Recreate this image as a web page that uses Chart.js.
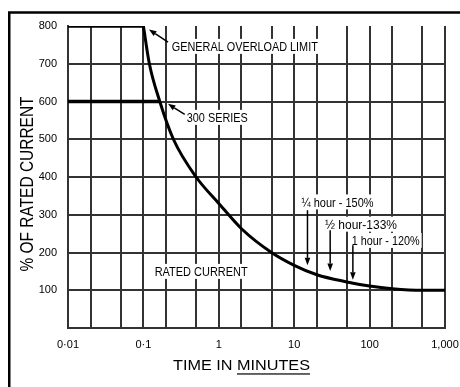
<!DOCTYPE html>
<html><head><meta charset="utf-8">
<script src="https://cdn.jsdelivr.net/npm/chart.js@4/dist/chart.umd.min.js"></script>
<style>html,body{margin:0;padding:0;background:#fff;}canvas{display:block}</style>
</head><body>
<canvas id="c" width="460" height="387"></canvas>
<script>
// ---- data ----
const timeTicks = [0.01,0.02,0.05,0.1,0.2,0.5,1,2,5,10,20,50,100,200,500,1000];
const timeTickLabels = ['0·01','','','0·1','','','1','','','10','','','100','','','1,000'];
const percentTicks = [0,100,200,300,400,500,600,700,800];

const overloadFlatTime = [0.01, 0.1];
const overloadFlatPct  = [800, 800];
const overloadCurveTime = [0.1, 0.12, 0.165, 0.25, 0.5, 1, 2, 5, 10, 20, 50, 100, 200, 500, 1000];
const overloadCurvePct  = [800, 700, 600, 500, 400, 330, 263, 200, 166, 141, 122, 111, 104, 100, 100];
const series300Time = [0.01, 0.165];
const series300Pct  = [600, 600];

// annotation texts (anchor = left edge / vertical centre, in data units)
const labelTexts = ['GENERAL OVERLOAD LIMIT','300 SERIES','RATED CURRENT','¼ hour - 150%','½ hour-133%','1 hour - 120%'];
const labelTime  = [0.238, 0.376, 0.141, 12.5, 25.6, 57.8];
const labelPct   = [746, 558, 150, 334, 275, 232];
const labelWidth = [146, 61, 93, 72, 72, 68];
// arrows: from -> to (tip), data units
const arrowFromTime = [0.212, 0.353, 15, 30, 60];
const arrowFromPct  = [757, 566, 312, 259, 219];
const arrowToTime   = [0.1186, 0.2115, 15, 30, 60];
const arrowToPct    = [791, 594, 166, 151, 128];

const xTitle1 = 'TIME IN ', xTitle2 = 'MINUTES';
const yTitle = '% OF RATED CURRENT';

const toXY = (xs, ys) => xs.map((x, i) => ({x, y: ys[i]}));
const GRID = '#333';
const NOLINE = 'rgba(255,255,255,0)';
const TICKFONT = {family: "'Liberation Sans', Arial, sans-serif", size: 11};

function drawScaledText(ctx, str, x, yCenter, size, targetW) {
  ctx.save();
  ctx.font = size + 'px "Liberation Sans", Arial, sans-serif';
  const m = ctx.measureText(str).width;
  ctx.translate(x, yCenter + 0.358 * size);
  ctx.scale(targetW / m, 1);
  ctx.textAlign = 'left';
  ctx.textBaseline = 'alphabetic';
  ctx.fillStyle = '#000';
  ctx.fillText(str, 0, 0);
  ctx.restore();
}

function drawArrow(ctx, x1, y1, x2, y2) {
  const ang = Math.atan2(y2 - y1, x2 - x1);
  const hl = 7.5, hw = 2.8;
  const bx = x2 - hl * Math.cos(ang), by = y2 - hl * Math.sin(ang);
  ctx.save();
  ctx.strokeStyle = '#000'; ctx.fillStyle = '#000'; ctx.lineWidth = 1.5;
  ctx.beginPath(); ctx.moveTo(x1, y1); ctx.lineTo(bx, by); ctx.stroke();
  ctx.beginPath();
  ctx.moveTo(x2, y2);
  ctx.lineTo(bx + hw * Math.sin(ang), by - hw * Math.cos(ang));
  ctx.lineTo(bx - hw * Math.sin(ang), by + hw * Math.cos(ang));
  ctx.closePath(); ctx.fill();
  ctx.restore();
}

const decor = {
  id: 'decor',
  beforeDraw(chart) {
    const ctx = chart.ctx;
    ctx.save();
    ctx.fillStyle = '#fff'; ctx.fillRect(0, 0, chart.width, chart.height);
    ctx.strokeStyle = '#000'; ctx.lineWidth = 2.5;
    ctx.strokeRect(9.25, 12.5, chart.width + 40, chart.height + 40);
    ctx.restore();
  },
  afterDatasetsDraw(chart) {
    const ctx = chart.ctx, xs = chart.scales.x, ys = chart.scales.y;
    const size = 13;
    labelTexts.forEach((t, i) => {
      const x = xs.getPixelForValue(labelTime[i]);
      const y = ys.getPixelForValue(labelPct[i]);
      ctx.save(); ctx.fillStyle = '#fff';
      ctx.fillRect(x - 2, y - 7.5, labelWidth[i] + 4, 15);
      ctx.restore();
      drawScaledText(ctx, t, x, y, size, labelWidth[i]);
    });
    arrowFromTime.forEach((t, i) => {
      drawArrow(ctx, xs.getPixelForValue(t), ys.getPixelForValue(arrowFromPct[i]),
                xs.getPixelForValue(arrowToTime[i]), ys.getPixelForValue(arrowToPct[i]));
    });
    const a = chart.chartArea;
    // y title
    ctx.save();
    ctx.translate(27, (a.top + a.bottom) / 2 + 7);
    ctx.rotate(-Math.PI / 2);
    ctx.font = '17.5px "Liberation Sans", Arial, sans-serif';
    const yw = ctx.measureText(yTitle).width;
    ctx.scale(175 / yw, 1);
    ctx.textAlign = 'center'; ctx.textBaseline = 'alphabetic'; ctx.fillStyle = '#000';
    ctx.fillText(yTitle, 0, 0.358 * 17.5);
    ctx.restore();
    // x title
    ctx.save();
    const xsz = 15;
    ctx.font = xsz + 'px "Liberation Sans", Arial, sans-serif';
    const w1 = ctx.measureText(xTitle1).width, w2 = ctx.measureText(xTitle2).width;
    const sx = 137 / (w1 + w2);
    const cx = (a.left + a.right) / 2 - 15;
    const x0 = cx - 137 / 2, base = 365 + 0.358 * xsz;
    ctx.translate(x0, base); ctx.scale(sx, 1);
    ctx.fillStyle = '#000'; ctx.textBaseline = 'alphabetic'; ctx.textAlign = 'left';
    ctx.fillText(xTitle1 + xTitle2, 0, 0);
    ctx.fillRect(w1, 3, w2, 1.2);
    ctx.restore();
  }
};

new Chart(document.getElementById('c'), {
  type: 'line',
  data: {
    datasets: [
      {data: toXY(overloadFlatTime, overloadFlatPct), borderColor: '#000', borderWidth: 3.5, pointRadius: 0, tension: 0},
      {data: toXY(series300Time, series300Pct), borderColor: '#000', borderWidth: 3.5, pointRadius: 0, tension: 0},
      {data: toXY(overloadCurveTime, overloadCurvePct), borderColor: '#000', borderWidth: 3, pointRadius: 0, cubicInterpolationMode: 'monotone'}
    ]
  },
  options: {
    responsive: false, animation: false, devicePixelRatio: 1,
    layout: {padding: {top: 26, right: 15, left: 0, bottom: 0}},
    plugins: {legend: {display: false}, tooltip: {enabled: false}},
    scales: {
      x: {
        type: 'logarithmic', min: 0.01, max: 1000,
        afterBuildTicks: s => { s.ticks = timeTicks.map(v => ({value: v})); },
        afterFit: s => { s.height = 59; s.paddingLeft = 0; s.paddingRight = 0; },
        ticks: {autoSkip: false, maxRotation: 0, padding: 10, color: '#000', font: TICKFONT,
          callback: (v) => { const i = timeTicks.indexOf(v); return i >= 0 ? timeTickLabels[i] : ''; }},
        grid: {color: GRID, lineWidth: 2, drawTicks: false},
        border: {color: GRID, width: 2}
      },
      y: {
        type: 'linear', min: 0, max: 800,
        afterBuildTicks: s => { s.ticks = percentTicks.map(v => ({value: v})); },
        afterFit: s => { s.width = 68; s.paddingTop = 0; s.paddingBottom = 0; },
        ticks: {padding: 11, color: '#000', font: TICKFONT,
          callback: v => v === 0 ? '' : String(v)},
        grid: {color: c => (c.tick && c.tick.value >= 800) ? NOLINE : GRID, lineWidth: 2, drawTicks: false},
        border: {color: GRID, width: 2}
      }
    }
  },
  plugins: [decor]
});
</script>
</body></html>
